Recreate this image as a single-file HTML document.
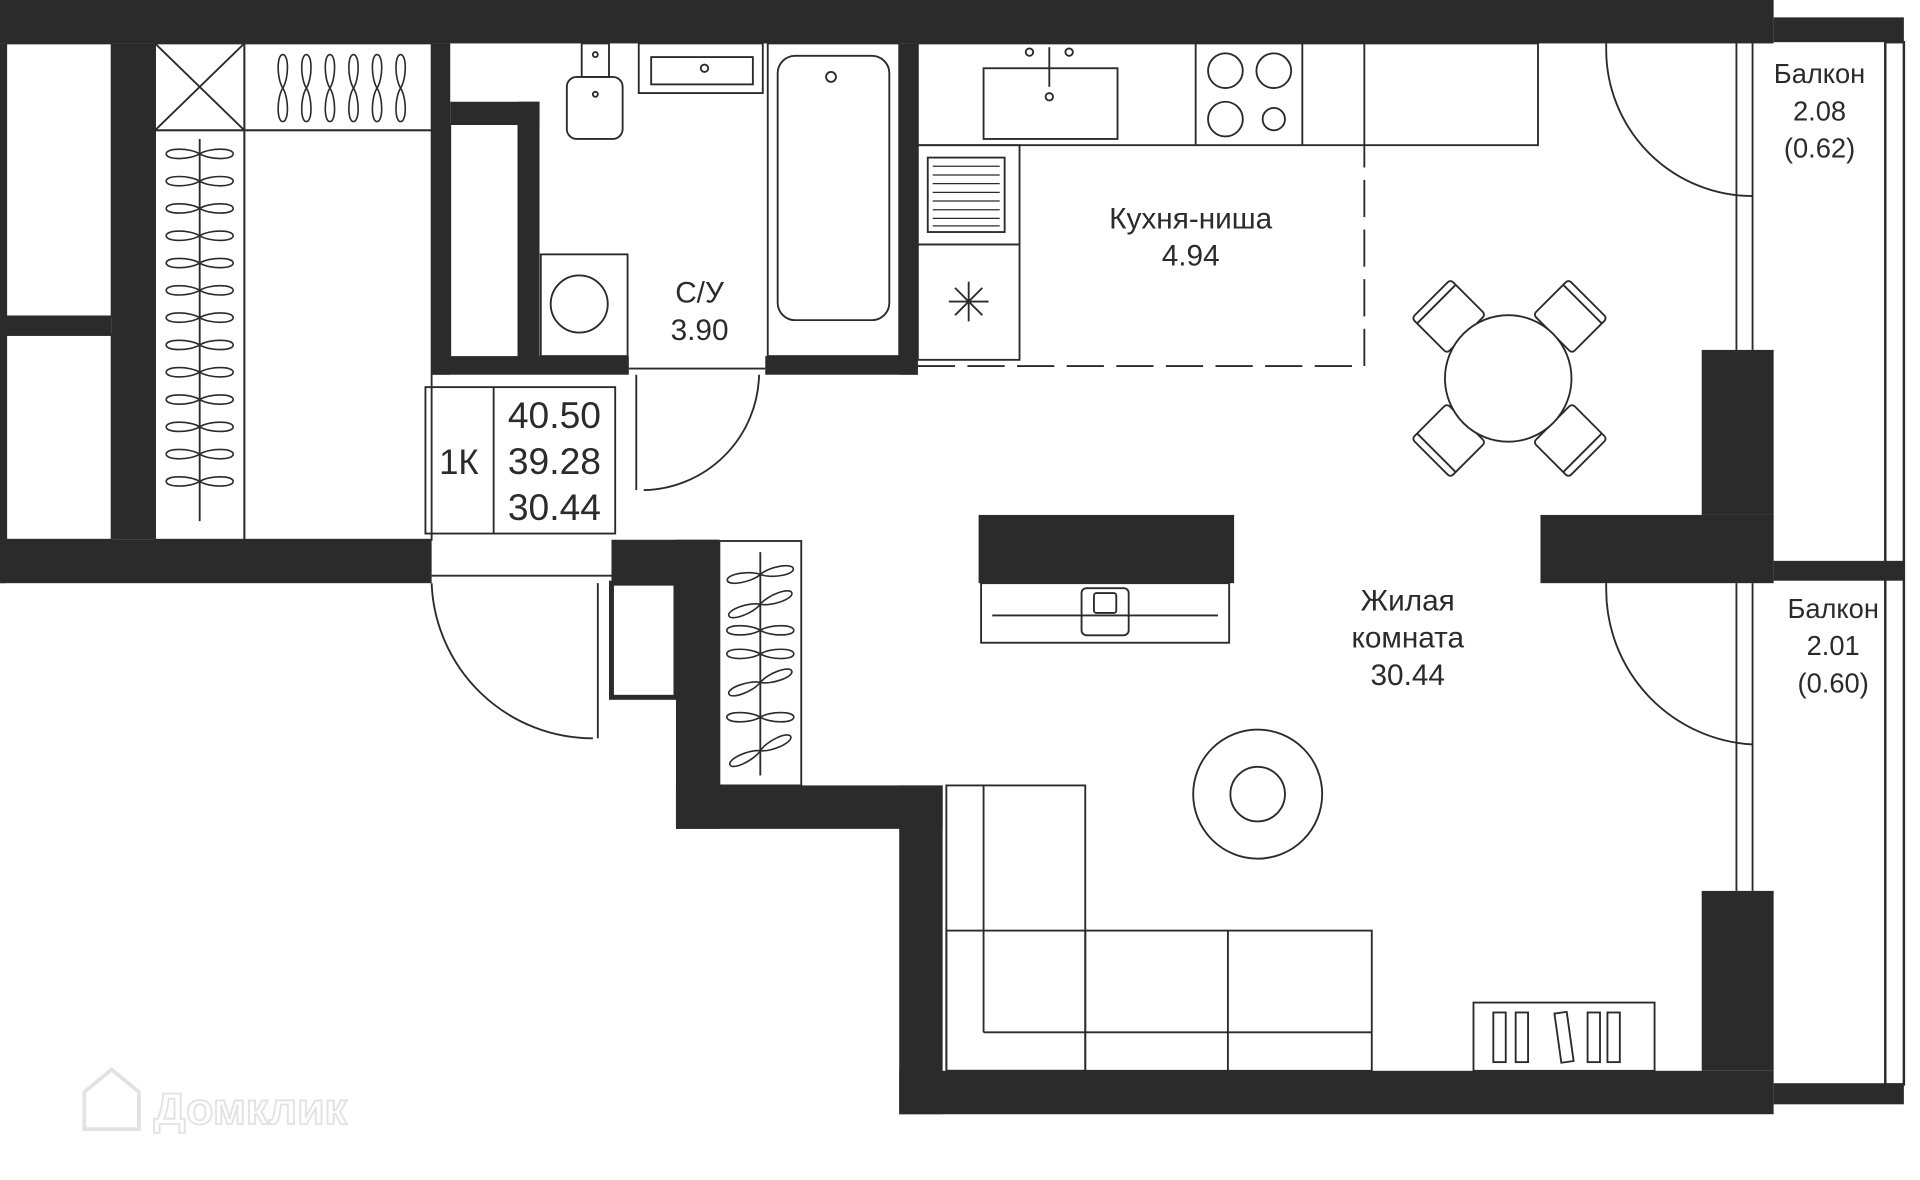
<!DOCTYPE html>
<html><head><meta charset="utf-8"><style>
html,body{margin:0;padding:0;background:#fff;}
svg{display:block;}
text{font-family:"Liberation Sans","Noto Sans CJK SC",sans-serif;fill:#2b2b2b;}
</style></head><body>
<svg width="1920" height="1180" viewBox="0 0 1548 951" preserveAspectRatio="none" xmlns="http://www.w3.org/2000/svg">
<defs>
<g id="hh"><path d="M0 0 C-8 -5 -27 -5 -27 0 C-27 5 -8 5 0 0 C8 -5 27 -5 27 0 C27 5 8 5 0 0 Z" fill="none" stroke="#2b2b2b" stroke-width="1.3"/></g>
<g id="ch"><rect x="-22" y="-20" width="44" height="40" rx="3" fill="#fff" stroke="#2b2b2b" stroke-width="1.5"/><line x1="-22" y1="-14" x2="22" y2="-14" stroke="#2b2b2b" stroke-width="1.5"/></g>
</defs>
<g fill="#2b2b2b">
<rect x="0" y="0" width="1430" height="35"/>
<rect x="1430" y="14" width="105" height="20"/>
<rect x="0" y="35" width="5" height="435"/>
<rect x="0" y="255" width="90" height="15"/>
<rect x="90" y="35" width="35" height="400"/>
<rect x="0" y="435" width="348" height="35"/>
<rect x="348" y="35" width="15" height="267"/>
<rect x="363" y="82" width="72" height="18"/>
<rect x="418" y="82" width="17" height="208"/>
<rect x="348" y="287" width="159" height="15"/>
<rect x="617" y="287" width="123" height="15"/>
<rect x="725" y="35" width="15" height="267"/>
<rect x="493" y="435" width="87" height="35"/>
<rect x="545" y="435" width="35" height="233"/>
<rect x="545" y="633" width="215" height="35"/>
<rect x="725" y="633" width="35" height="265"/>
<rect x="725" y="863" width="705" height="35"/>
<rect x="1430" y="873" width="105" height="17"/>
<rect x="1372" y="282" width="58" height="133"/>
<rect x="1242" y="415" width="188" height="55"/>
<rect x="1430" y="452" width="105" height="16"/>
<rect x="1372" y="718" width="58" height="145"/>
<rect x="789" y="415" width="206" height="55"/>
</g>
<g fill="none" stroke="#2b2b2b" stroke-width="1.5">
<rect x="1520" y="34" width="15" height="840" stroke-width="2"/>
<rect x="5" y="35" width="85" height="220"/><rect x="5" y="270" width="85" height="165"/>
<rect x="493" y="470" width="52" height="92" stroke-width="4"/>
<rect x="125" y="35" width="72" height="70"/><line x1="125" y1="35" x2="197" y2="105"/><line x1="197" y1="35" x2="125" y2="105"/>
<rect x="197" y="35" width="151" height="70"/>
<rect x="125" y="105" width="72" height="330"/><rect x="197" y="105" width="151" height="330"/>
<line x1="161" y1="112" x2="161" y2="420"/>
<rect x="343" y="312" width="153" height="118"/><line x1="398" y1="312" x2="398" y2="430"/>
<rect x="580" y="436" width="66" height="197"/>
<line x1="613" y1="445" x2="613" y2="625"/>
<rect x="363" y="100" width="55" height="190"/>
<rect x="457" y="62" width="45" height="50" rx="8"/><rect x="469" y="35" width="22" height="27"/><circle cx="480" cy="76" r="2"/><circle cx="480" cy="44" r="2"/>
<rect x="515" y="35" width="100" height="40"/><rect x="525" y="46" width="82" height="22"/><circle cx="568" cy="55" r="3"/>
<rect x="619" y="35" width="106" height="252"/><rect x="627" y="45" width="90" height="213" rx="14"/><circle cx="670" cy="62" r="4"/>
<rect x="436" y="205" width="70" height="82"/><circle cx="467" cy="245" r="23"/>
<line x1="507" y1="297" x2="617" y2="297"/><line x1="513" y1="302" x2="513" y2="395"/><path d="M519 395 A95 95 0 0 0 612 302"/>
<line x1="348" y1="464" x2="493" y2="464"/><line x1="482" y1="470" x2="482" y2="595"/><path d="M348 470 A130 130 0 0 0 478 595"/>
<rect x="740" y="35" width="500" height="82"/><line x1="964" y1="35" x2="964" y2="117"/><line x1="1050" y1="35" x2="1050" y2="117"/><line x1="1100" y1="35" x2="1100" y2="117"/>
<rect x="793" y="55" width="108" height="57"/><line x1="846" y1="38" x2="846" y2="70"/><circle cx="830" cy="42" r="3"/><circle cx="862" cy="42" r="3"/><circle cx="846" cy="78" r="3"/>
<circle cx="988" cy="57" r="14"/><circle cx="1027" cy="57" r="14"/><circle cx="988" cy="96" r="14"/><circle cx="1027" cy="96" r="9"/>
<rect x="740" y="117" width="82" height="80"/><rect x="748" y="127" width="62" height="60"/>
<g stroke-width="1"><line x1="752" y1="134" x2="806" y2="134"/><line x1="752" y1="141" x2="806" y2="141"/><line x1="752" y1="148" x2="806" y2="148"/><line x1="752" y1="155" x2="806" y2="155"/><line x1="752" y1="162" x2="806" y2="162"/><line x1="752" y1="169" x2="806" y2="169"/><line x1="752" y1="176" x2="806" y2="176"/><line x1="752" y1="182" x2="806" y2="182"/></g>
<rect x="740" y="197" width="82" height="93"/>
<line x1="765" y1="243" x2="797" y2="243"/><line x1="781" y1="227" x2="781" y2="259"/><line x1="770" y1="232" x2="792" y2="254"/><line x1="792" y1="232" x2="770" y2="254"/>
<path d="M740 295 H1100 V117" stroke-dasharray="30 10"/>
<rect x="791" y="470" width="200" height="48"/><line x1="800" y1="496" x2="982" y2="496"/><rect x="872" y="474" width="38" height="38" rx="4"/><rect x="882" y="478" width="18" height="16" rx="2"/>
<circle cx="1014" cy="640" r="52"/><circle cx="1014" cy="640" r="22"/>
<rect x="763" y="633" width="112" height="230"/><line x1="793" y1="633" x2="793" y2="832"/>
<rect x="763" y="750" width="343" height="113"/><line x1="875" y1="750" x2="875" y2="863"/><line x1="990" y1="750" x2="990" y2="863"/><line x1="793" y1="832" x2="1106" y2="832"/>
<rect x="1188" y="808" width="146" height="55"/>
<rect x="1204" y="816" width="10" height="40"/><rect x="1222" y="816" width="10" height="40"/><rect x="1256" y="816" width="10" height="40" transform="rotate(-8 1261 836)"/><rect x="1280" y="816" width="10" height="40"/><rect x="1296" y="816" width="10" height="40"/>
<path d="M1295 35 V40 A118 118 0 0 0 1413 158"/><line x1="1413" y1="35" x2="1413" y2="282"/><line x1="1400" y1="35" x2="1400" y2="282"/>
<path d="M1295 470 V475 A125 125 0 0 0 1413 600"/><line x1="1413" y1="470" x2="1413" y2="718"/><line x1="1400" y1="470" x2="1400" y2="718"/>
</g>
<use href="#hh" x="161" y="124"/><use href="#hh" x="161" y="146"/><use href="#hh" x="161" y="168"/><use href="#hh" x="161" y="190"/><use href="#hh" x="161" y="212"/><use href="#hh" x="161" y="234"/><use href="#hh" x="161" y="256"/><use href="#hh" x="161" y="278"/><use href="#hh" x="161" y="300"/><use href="#hh" x="161" y="322"/><use href="#hh" x="161" y="344"/><use href="#hh" x="161" y="366"/><use href="#hh" x="161" y="388"/>
<g transform="translate(228 71) rotate(90)"><use href="#hh"/></g><g transform="translate(247 71) rotate(90)"><use href="#hh"/></g><g transform="translate(266 71) rotate(90)"><use href="#hh"/></g><g transform="translate(285 71) rotate(90)"><use href="#hh"/></g><g transform="translate(304 71) rotate(90)"><use href="#hh"/></g><g transform="translate(323 71) rotate(90)"><use href="#hh"/></g>
<g transform="translate(613 463) rotate(-10)"><use href="#hh"/></g><g transform="translate(613 487) rotate(-20)"><use href="#hh"/></g><g transform="translate(613 508)"><use href="#hh"/></g><g transform="translate(613 527)"><use href="#hh"/></g><g transform="translate(613 550) rotate(-20)"><use href="#hh"/></g><g transform="translate(613 578)"><use href="#hh"/></g><g transform="translate(613 605) rotate(-25)"><use href="#hh"/></g>
<g transform="translate(1168 255) rotate(-45)"><use href="#ch"/></g>
<g transform="translate(1266 255) rotate(45)"><use href="#ch"/></g>
<g transform="translate(1168 355) rotate(-135)"><use href="#ch"/></g>
<g transform="translate(1266 355) rotate(135)"><use href="#ch"/></g>
<circle cx="1216" cy="305" r="51" fill="#fff" stroke="#2b2b2b" stroke-width="1.5"/>
<g fill="#2b2b2b">
<text x="960" y="184" font-size="24" text-anchor="middle">Кухня-ниша</text>
<text x="960" y="214" font-size="24" text-anchor="middle">4.94</text>
<text x="564" y="244" font-size="24" text-anchor="middle">С/У</text>
<text x="564" y="274" font-size="24" text-anchor="middle">3.90</text>
<text x="370" y="382" font-size="28" text-anchor="middle">1К</text>
<text x="447" y="345" font-size="30" text-anchor="middle">40.50</text>
<text x="447" y="382" font-size="30" text-anchor="middle">39.28</text>
<text x="447" y="419" font-size="30" text-anchor="middle">30.44</text>
<text x="1135" y="492" font-size="24" text-anchor="middle">Жилая</text>
<text x="1135" y="522" font-size="24" text-anchor="middle">комната</text>
<text x="1135" y="552" font-size="24" text-anchor="middle">30.44</text>
<text x="1467" y="67" font-size="22" text-anchor="middle">Балкон</text>
<text x="1467" y="97" font-size="22" text-anchor="middle">2.08</text>
<text x="1467" y="127" font-size="22" text-anchor="middle">(0.62)</text>
<text x="1478" y="498" font-size="22" text-anchor="middle">Балкон</text>
<text x="1478" y="528" font-size="22" text-anchor="middle">2.01</text>
<text x="1478" y="558" font-size="22" text-anchor="middle">(0.60)</text>
</g>
<path d="M68 910 V880 L90 862 L112 880 V910 Z" fill="none" stroke="#e2e2e2" stroke-width="3"/>
<text x="124" y="906" font-size="36" font-weight="bold" fill="none" stroke="#e2e2e2" stroke-width="1.5" style="fill:none">Домклик</text>
</svg>
</body></html>
